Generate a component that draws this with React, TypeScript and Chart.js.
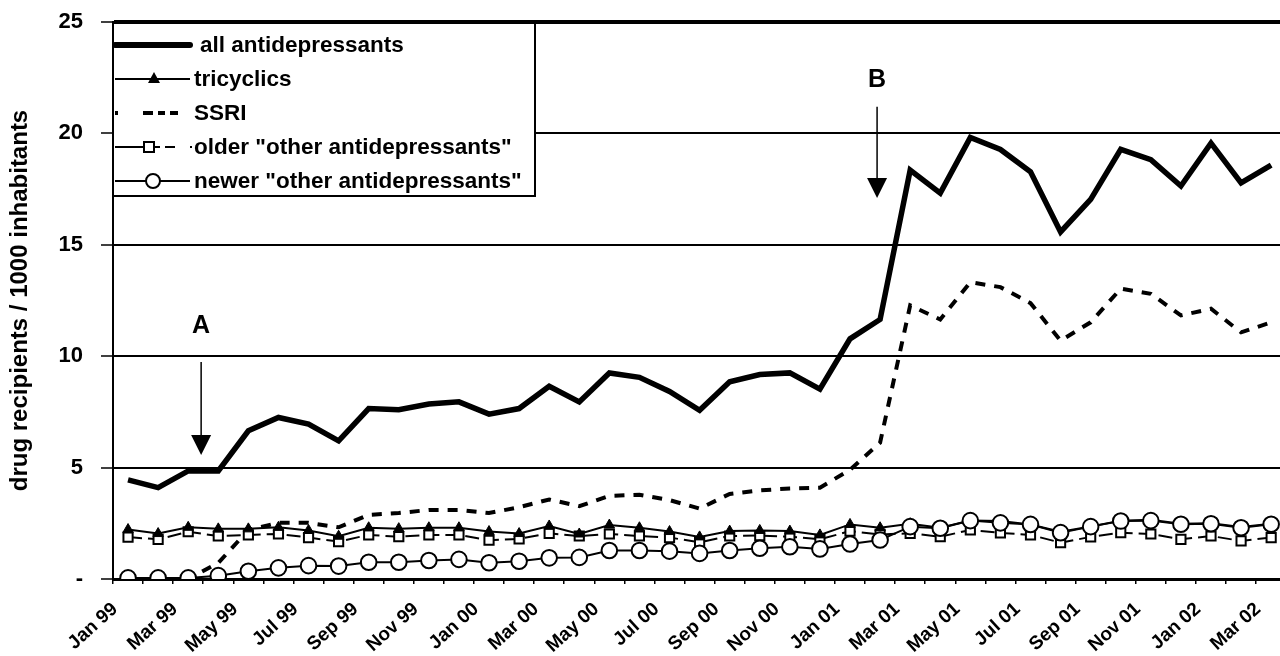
import React, { useEffect, useRef } from "react";
import { Chart, registerables } from "chart.js";

Chart.register(...registerables);

const months = [
  "Jan 99", "Feb 99", "Mar 99", "Apr 99", "May 99", "Jun 99", "Jul 99", "Aug 99", "Sep 99", "Oct 99", "Nov 99", "Dec 99",
  "Jan 00", "Feb 00", "Mar 00", "Apr 00", "May 00", "Jun 00", "Jul 00", "Aug 00", "Sep 00", "Oct 00", "Nov 00", "Dec 00",
  "Jan 01", "Feb 01", "Mar 01", "Apr 01", "May 01", "Jun 01", "Jul 01", "Aug 01", "Sep 01", "Oct 01", "Nov 01", "Dec 01",
  "Jan 02", "Feb 02", "Mar 02",
];

const allAntidepressants = [
  4.45, 4.1, 4.85, 4.85, 6.65, 7.25, 6.95, 6.2, 7.65, 7.6, 7.85, 7.95,
  7.4, 7.65, 8.65, 7.95, 9.25, 9.05, 8.42, 7.57, 8.85, 9.18, 9.25, 8.52,
  10.78, 11.65, 18.35, 17.32, 19.82, 19.28, 18.28, 15.58, 17.04, 19.28, 18.82, 17.64,
  19.56, 17.78, 18.58,
];

const tricyclics = [
  2.22, 2.04, 2.32, 2.25, 2.25, 2.32, 2.18, 1.92, 2.3, 2.26, 2.3, 2.3,
  2.13, 2.04, 2.38, 2.02, 2.42, 2.3, 2.13, 1.89, 2.15, 2.18, 2.15, 1.98,
  2.45, 2.3, 2.48, 2.3, 2.62, 2.6, 2.45, 2.12, 2.36, 2.62, 2.66, 2.48,
  2.5, 2.33, 2.48,
];

const ssri = [
  0, 0, 0, 0.72, 2.2, 2.52, 2.52, 2.32, 2.88, 2.96, 3.1, 3.1,
  2.96, 3.22, 3.57, 3.27, 3.73, 3.78, 3.54, 3.16, 3.82, 3.98, 4.06, 4.1,
  4.9, 6.12, 12.28, 11.65, 13.32, 13.1, 12.38, 10.7, 11.52, 13.03, 12.8, 11.83,
  12.13, 11.07, 11.52,
];

const olderOther = [
  1.88, 1.78, 2.12, 1.93, 1.98, 2.02, 1.86, 1.68, 1.98, 1.9, 1.98, 1.98,
  1.74, 1.8, 2.05, 1.93, 2.02, 1.93, 1.86, 1.65, 1.93, 1.95, 1.9, 1.78,
  2.15, 2.0, 2.05, 1.9, 2.2, 2.07, 1.98, 1.63, 1.89, 2.08, 2.02, 1.78,
  1.93, 1.71, 1.86,
];

const newerOther = [
  0.05, 0.05, 0.05, 0.15, 0.35, 0.5, 0.6, 0.58, 0.75, 0.75, 0.83, 0.88,
  0.73, 0.8, 0.95, 0.97, 1.28, 1.28, 1.25, 1.15, 1.28, 1.38, 1.45, 1.35,
  1.57, 1.75, 2.35, 2.28, 2.62, 2.52, 2.45, 2.08, 2.35, 2.6, 2.62, 2.46,
  2.48, 2.3, 2.46,
];

const seriesNames = [
  "all antidepressants",
  "tricyclics",
  "SSRI",
  'older "other antidepressants"',
  'newer "other antidepressants"',
];

const yTicks = [0, 5, 10, 15, 20, 25];
const yTitle = "drug recipients / 1000 inhabitants";

// annotations: label, category index, value of label centre, arrow start, arrow tip
const annotationLabels = ["A", "B"];
const annotationIndex = [2.43, 24.9];
const annotationTextValue = [11.35, 22.4];
const annotationFromValue = [9.74, 21.2];
const annotationToValue = [5.57, 17.1];

const FONT = '"Liberation Sans", Arial, Helvetica, sans-serif';

const legendPlugin = {
  id: "customLegend",
  afterDatasetsDraw(chart: any) {
    const { ctx, chartArea } = chart;
    const L = chartArea.left;
    const T = chartArea.top;
    const W = 422;
    const H = 174;
    ctx.save();
    ctx.fillStyle = "#fff";
    ctx.fillRect(L + 1, T + 2, W, H - 2);
    ctx.strokeStyle = "#000";
    ctx.lineWidth = 2;
    ctx.beginPath();
    ctx.moveTo(L + W, T);
    ctx.lineTo(L + W, T + H);
    ctx.lineTo(L, T + H);
    ctx.stroke();

    const rows = [T + 23, T + 57, T + 91, T + 125, T + 159];
    const textX = L + 81;
    ctx.fillStyle = "#000";
    ctx.font = `bold 22.5px ${FONT}`;
    ctx.textBaseline = "middle";
    ctx.textAlign = "left";
    seriesNames.forEach((name, i) => {
      ctx.fillText(name, i === 0 ? textX + 6 : textX, rows[i] + 1);
    });

    ctx.strokeStyle = "#000";
    // all antidepressants
    ctx.lineWidth = 6;
    ctx.lineCap = "round";
    ctx.beginPath();
    ctx.moveTo(L + 2, rows[0]);
    ctx.lineTo(L + 77, rows[0]);
    ctx.stroke();
    ctx.lineCap = "butt";
    // tricyclics
    ctx.lineWidth = 2;
    ctx.beginPath();
    ctx.moveTo(L + 2, rows[1]);
    ctx.lineTo(L + 77, rows[1]);
    ctx.stroke();
    ctx.beginPath();
    const tx = L + 41;
    ctx.moveTo(tx, rows[1] - 7);
    ctx.lineTo(tx + 6, rows[1] + 4);
    ctx.lineTo(tx - 6, rows[1] + 4);
    ctx.closePath();
    ctx.fill();
    // SSRI
    ctx.lineWidth = 4;
    const segs = [[2, 5], [30, 40], [45, 52], [57, 65]];
    segs.forEach(([a, b]) => {
      ctx.beginPath();
      ctx.moveTo(L + a, rows[2]);
      ctx.lineTo(L + b, rows[2]);
      ctx.stroke();
    });
    // older
    ctx.lineWidth = 2;
    ctx.beginPath();
    ctx.moveTo(L + 2, rows[3]);
    ctx.lineTo(L + 31, rows[3]);
    ctx.moveTo(L + 41, rows[3]);
    ctx.lineTo(L + 47, rows[3]);
    ctx.moveTo(L + 52, rows[3]);
    ctx.lineTo(L + 62, rows[3]);
    ctx.stroke();
    ctx.fillStyle = "#fff";
    ctx.fillRect(L + 31, rows[3] - 5, 10, 10);
    ctx.strokeRect(L + 31, rows[3] - 5, 10, 10);
    ctx.fillStyle = "#000";
    ctx.fillRect(L + 77, rows[3] - 1, 2, 2);
    // newer
    ctx.beginPath();
    ctx.moveTo(L + 2, rows[4]);
    ctx.lineTo(L + 77, rows[4]);
    ctx.stroke();
    ctx.beginPath();
    ctx.arc(L + 40, rows[4], 7, 0, Math.PI * 2);
    ctx.fillStyle = "#fff";
    ctx.fill();
    ctx.stroke();
    ctx.restore();
  },
};

const arrowPlugin = {
  id: "arrows",
  afterDraw(chart: any) {
    const { ctx } = chart;
    const xs = chart.scales.x;
    const ys = chart.scales.y;
    ctx.save();
    annotationLabels.forEach((lab, i) => {
      const x = xs.getPixelForValue(annotationIndex[i]);
      const yText = ys.getPixelForValue(annotationTextValue[i]);
      const yFrom = ys.getPixelForValue(annotationFromValue[i]);
      const yTo = ys.getPixelForValue(annotationToValue[i]);
      ctx.fillStyle = "#000";
      ctx.strokeStyle = "#000";
      ctx.font = `bold 25px ${FONT}`;
      ctx.textAlign = "center";
      ctx.textBaseline = "middle";
      ctx.fillText(lab, x, yText);
      ctx.lineWidth = 1.5;
      ctx.beginPath();
      ctx.moveTo(x, yFrom);
      ctx.lineTo(x, yTo - 18);
      ctx.stroke();
      ctx.beginPath();
      ctx.moveTo(x - 10, yTo - 20);
      ctx.lineTo(x + 10, yTo - 20);
      ctx.lineTo(x, yTo);
      ctx.closePath();
      ctx.fill();
    });
    ctx.restore();
  },
};

export default function App() {
  const canvasRef = useRef<HTMLCanvasElement | null>(null);

  useEffect(() => {
    if (!canvasRef.current) return;
    Chart.defaults.font.family = FONT;
    Chart.defaults.color = "#000";
    const chart = new Chart(canvasRef.current, {
      type: "line",
      data: {
        labels: months,
        datasets: [
          {
            label: seriesNames[0],
            data: allAntidepressants,
            borderColor: "#000",
            backgroundColor: "#000",
            borderWidth: 5.5,
            pointRadius: 0,
            order: 0,
          },
          {
            label: seriesNames[1],
            data: tricyclics,
            borderColor: "#000",
            backgroundColor: "#000",
            borderWidth: 2,
            pointStyle: "triangle",
            pointRadius: 6,
            pointBorderWidth: 1,
            order: 2,
          },
          {
            label: seriesNames[2],
            data: ssri,
            borderColor: "#000",
            borderWidth: 4,
            borderDash: [10, 9],
            pointRadius: 0,
            order: 4,
          },
          {
            label: seriesNames[3],
            data: olderOther,
            borderColor: "#000",
            backgroundColor: "#fff",
            borderWidth: 2,
            borderDash: [14, 6],
            pointStyle: "rect",
            pointRadius: 6.5,
            pointBorderWidth: 2,
            order: 3,
          },
          {
            label: seriesNames[4],
            data: newerOther,
            borderColor: "#000",
            backgroundColor: "#fff",
            borderWidth: 2,
            pointStyle: "circle",
            pointRadius: 7.8,
            pointBorderWidth: 2,
            order: 1,
          },
        ],
      },
      options: {
        animation: false,
        responsive: false,
        maintainAspectRatio: false,
        devicePixelRatio: 1,
        events: [],
        layout: { padding: { top: 22, right: 0, left: 0, bottom: 0 } },
        plugins: {
          legend: { display: false },
          tooltip: { enabled: false },
        },
        scales: {
          x: {
            type: "category",
            offset: true,
            grid: {
              display: true,
              drawOnChartArea: false,
              drawTicks: true,
              tickLength: 5,
              offset: true,
              color: "#000",
              lineWidth: 1.5,
            },
            border: { display: true, color: "#000", width: 3 },
            ticks: {
              autoSkip: false,
              maxRotation: 42,
              minRotation: 42,
              padding: 14,
              labelOffset: -13,
              font: { size: 19, weight: "bold", family: FONT },
              color: "#000",
              callback: (_v: any, i: number) => (i % 2 === 0 ? months[i] : ""),
            },
            afterFit: (scale: any) => {
              scale.height = 77;
              scale.paddingLeft = 0;
              scale.paddingRight = 0;
              scale.paddingTop = 0;
              scale.paddingBottom = 0;
            },
          },
          y: {
            min: 0,
            max: 25,
            afterBuildTicks: (scale: any) => {
              scale.ticks = yTicks.map((v) => ({ value: v }));
            },
            grid: {
              color: "#000",
              lineWidth: (c: any) => (c.tick && c.tick.value === 25 ? 4 : 2),
              tickLength: 12,
              tickWidth: 1.5,
              tickColor: "#000",
            },
            border: { display: true, color: "#000", width: 2 },
            ticks: {
              padding: 18,
              font: { size: 22, weight: "bold", family: FONT },
              color: "#000",
              callback: (v: any) => (v === 0 ? "-" : String(v)),
            },
            title: {
              display: true,
              text: yTitle,
              font: { size: 24, weight: "bold", family: FONT },
              color: "#000",
              padding: { top: 6, bottom: 0 },
            },
            afterFit: (scale: any) => {
              scale.width = 113;
              scale.paddingLeft = 0;
              scale.paddingRight = 0;
              scale.paddingTop = 0;
              scale.paddingBottom = 0;
            },
          },
        },
      },
      plugins: [legendPlugin, arrowPlugin],
    } as any);
    return () => chart.destroy();
  }, []);

  return (
    <div
      style={{
        position: "fixed",
        left: 0,
        top: 0,
        width: 1280,
        height: 656,
        overflow: "hidden",
        background: "#fff",
      }}
    >
      <canvas
        ref={canvasRef}
        width={1296}
        height={656}
        style={{ display: "block", width: 1296, height: 656 }}
      />
    </div>
  );
}
